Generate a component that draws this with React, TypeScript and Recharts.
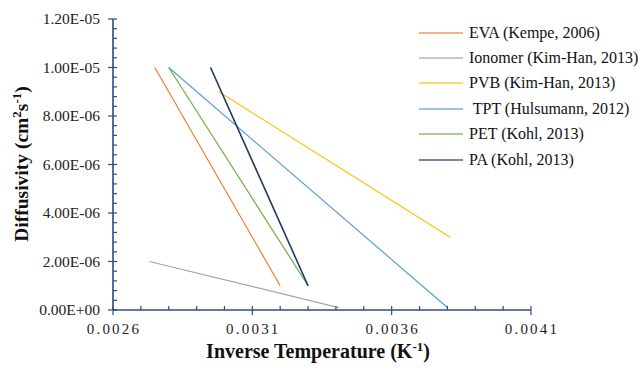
import { LineChart, Line, XAxis, YAxis } from 'recharts';

interface Pt {
  x: number;
  y: number;
}

const seriesNames = [
  'EVA (Kempe, 2006)',
  'Ionomer (Kim-Han, 2013)',
  'PVB (Kim-Han, 2013)',
  ' TPT (Hulsumann, 2012)',
  'PET (Kohl, 2013)',
  'PA (Kohl, 2013)',
];
const seriesColors = ['#ED7D31', '#A5A5A5', '#FFC000', '#5B9BD5', '#70AD47', '#203864'];

const eva: Pt[] = [
  { x: 0.00275, y: 1.0e-5 },
  { x: 0.0032, y: 1.0e-6 },
];
const ionomer: Pt[] = [
  { x: 0.00273, y: 2.0e-6 },
  { x: 0.00341, y: 1.0e-7 },
];
const pvb: Pt[] = [
  { x: 0.00298, y: 9.0e-6 },
  { x: 0.00381, y: 3.0e-6 },
];
const tpt: Pt[] = [
  { x: 0.0028, y: 1.0e-5 },
  { x: 0.0038, y: 1.0e-7 },
];
const pet: Pt[] = [
  { x: 0.0028, y: 1.0e-5 },
  { x: 0.0033, y: 1.0e-6 },
];
const pa: Pt[] = [
  { x: 0.00295, y: 1.0e-5 },
  { x: 0.0033, y: 1.0e-6 },
];
const seriesData = [eva, ionomer, pvb, tpt, pet, pa];

// major (labelled) ticks and the minor ticks between them
const xTicks = [0.0026, 0.0031, 0.0036, 0.0041];
const xMinorTicks = [
  0.0026, 0.0027, 0.0028, 0.0029, 0.003, 0.0031, 0.0032, 0.0033, 0.0034, 0.0035, 0.0036, 0.0037,
  0.0038, 0.0039, 0.004, 0.0041,
];
const yTicks = [0, 2e-6, 4e-6, 6e-6, 8e-6, 1e-5, 1.2e-5];
const yMinorTicks = [
  0, 4e-7, 8e-7, 1.2e-6, 1.6e-6, 2e-6, 2.4e-6, 2.8e-6, 3.2e-6, 3.6e-6, 4e-6, 4.4e-6, 4.8e-6, 5.2e-6,
  5.6e-6, 6e-6, 6.4e-6, 6.8e-6, 7.2e-6, 7.6e-6, 8e-6, 8.4e-6, 8.8e-6, 9.2e-6, 9.6e-6, 1e-5, 1.04e-5,
  1.08e-5, 1.12e-5, 1.16e-5, 1.2e-5,
];

const AXIS = '#2F4B85';
const FONT = 'Liberation Serif';

const isMajor = (v: number, majors: number[], eps: number) => majors.some((m) => Math.abs(m - v) < eps);

const fmtSci = (v: number) => {
  if (Math.abs(v) < 1e-12) return '0.00E+00';
  const exp = Math.floor(Math.log10(v) + 1e-9);
  const mant = v / Math.pow(10, exp);
  return `${mant.toFixed(2)}E-${String(-exp).padStart(2, '0')}`;
};

const XTick = (props: any) => {
  const { x, y, payload } = props;
  const major = isMajor(payload.value, xTicks, 1e-7);
  return (
    <g>
      <line x1={x} x2={x} y1={y - 4} y2={major ? y + 5 : y} stroke={AXIS} strokeWidth={1.2} />
      {major && (
        <text x={x + 1} y={y + 24} textAnchor="middle" fontFamily={FONT} fontSize={15} letterSpacing={2.2} fill="#222">
          {Number(payload.value).toFixed(4)}
        </text>
      )}
    </g>
  );
};

const YTick = (props: any) => {
  const { x, y, payload } = props;
  const major = isMajor(payload.value, yTicks, 1e-9);
  return (
    <g>
      <line x1={major ? x - 5 : x} x2={x + 4} y1={y} y2={y} stroke={AXIS} strokeWidth={1.2} />
      {major && (
        <text x={x - 13} y={y + 5} textAnchor="end" fontFamily={FONT} fontSize={15.5} fill="#222">
          {fmtSci(payload.value)}
        </text>
      )}
    </g>
  );
};

export default function App() {
  return (
    <div style={{ position: 'absolute', left: 0, top: 0, width: 638, height: 368, background: '#fff' }}>
      <LineChart width={638} height={368} margin={{ top: 19, right: 107, left: 0, bottom: 0 }}>
        <XAxis
          type="number"
          dataKey="x"
          domain={[0.0026, 0.0041]}
          ticks={xMinorTicks}
          interval={0}
          tick={XTick}
          tickLine={false}
          tickSize={0}
          tickMargin={0}
          stroke={AXIS}
          axisLine={{ stroke: AXIS, strokeWidth: 1.6 }}
          height={58}
          allowDataOverflow
          label={{
            content: () => (
              <text x={318} y={358} textAnchor="middle" fontFamily={FONT} fontWeight="bold" fontSize={20} fill="#111">
                Inverse Temperature (K
                <tspan dy={-7} fontSize={13}>-1</tspan>
                <tspan dy={7}>)</tspan>
              </text>
            ),
          }}
        />
        <YAxis
          type="number"
          domain={[0, 1.2e-5]}
          ticks={yMinorTicks}
          interval={0}
          tick={YTick}
          tickLine={false}
          tickSize={0}
          tickMargin={0}
          stroke={AXIS}
          axisLine={{ stroke: AXIS, strokeWidth: 1.6 }}
          width={113}
          allowDataOverflow
          label={{
            content: () => (
              <text
                x={28}
                y={164}
                textAnchor="middle"
                transform="rotate(-90 28 164)"
                fontFamily={FONT}
                fontWeight="bold"
                fontSize={19.5}
                fill="#111"
              >
                Diffusivity (cm
                <tspan dy={-7} fontSize={13}>2</tspan>
                <tspan dy={7}>s</tspan>
                <tspan dy={-7} fontSize={13}>-1</tspan>
                <tspan dy={7}>)</tspan>
              </text>
            ),
          }}
        />
        {seriesData.map((d, i) => (
          <Line
            key={seriesNames[i]}
            data={d}
            dataKey="y"
            type="linear"
            stroke={seriesColors[i]}
            strokeWidth={i === 5 ? 1.6 : 1.2}
            dot={false}
            activeDot={false}
            isAnimationActive={false}
          />
        ))}
      </LineChart>
      <div style={{ position: 'absolute', left: 419, top: 20, fontFamily: FONT, fontSize: 16, color: '#111' }}>
        {seriesNames.map((name, i) => (
          <div key={name} style={{ display: 'flex', alignItems: 'center', height: 25.4, whiteSpace: 'pre' }}>
            <svg width={44} height={4} style={{ marginRight: 6 }}>
              <line x1={0} y1={2} x2={44} y2={2} stroke={seriesColors[i]} strokeOpacity={0.6} strokeWidth={2} />
            </svg>
            <span>{name}</span>
          </div>
        ))}
      </div>
    </div>
  );
}
